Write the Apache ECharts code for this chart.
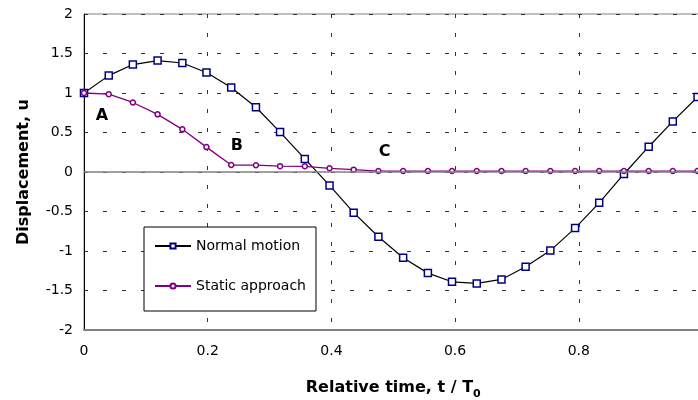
<!DOCTYPE html>
<html><head><meta charset="utf-8">
<script src="https://cdn.jsdelivr.net/npm/echarts@6/dist/echarts.min.js"></script>
<style>html,body{margin:0;padding:0;background:#fff}#c{width:698px;height:400px}</style>
</head><body><div id="c"></div>
<script>
// Relative time t / T0 of each sample
const tValues = [0, 0.04, 0.079, 0.119, 0.159, 0.198, 0.238, 0.278, 0.317, 0.357, 0.397, 0.436, 0.476,
  0.516, 0.556, 0.595, 0.635, 0.675, 0.714, 0.754, 0.794, 0.833, 0.873, 0.913, 0.952, 0.992];
// Displacement u
const normalMotion = [1.0, 1.22, 1.36, 1.41, 1.38, 1.26, 1.07, 0.82, 0.505, 0.165, -0.17, -0.515, -0.82,
  -1.085, -1.28, -1.39, -1.41, -1.36, -1.2, -0.995, -0.71, -0.39, -0.025, 0.32, 0.64, 0.95];
const staticApproach = [1.0, 0.985, 0.88, 0.73, 0.54, 0.315, 0.088, 0.086, 0.074, 0.072, 0.047, 0.03, 0.012,
  0.012, 0.012, 0.012, 0.012, 0.012, 0.012, 0.012, 0.012, 0.012, 0.012, 0.012, 0.012, 0.012];
const seriesNames = ['Normal motion', 'Static approach'];
const annotationLabels = ['A', 'B', 'C'];
const annotationT = [0.029, 0.247, 0.486];
const annotationU = [0.71, 0.33, 0.25];

const FONT = 'DejaVu Sans';
const chart = echarts.init(document.getElementById('c'), null, {renderer: 'canvas'});
chart.setOption({
  animation: false,
  backgroundColor: '#fff',
  textStyle: {fontFamily: FONT, color: '#000'},
  grid: {left: 84, top: 14, width: 618.5, height: 316, show: true, borderColor: '#808080', borderWidth: 1,
    containLabel: false, outerBoundsMode: 'none'},
  legend: {
    data: seriesNames,
    orient: 'vertical',
    left: 144, top: 227,
    padding: [12, 10, 18, 10],
    itemGap: 26,
    itemWidth: 36, itemHeight: 6.5,
    borderColor: '#000', borderWidth: 1, backgroundColor: '#fff',
    textStyle: {fontFamily: FONT, fontSize: 14, color: '#000'}
  },
  xAxis: {
    type: 'value', min: 0, max: 1, interval: 0.2,
    name: 'Relative time, t / T{sub|0}',
    nameLocation: 'middle', nameGap: 45.5,
    nameTextStyle: {fontFamily: FONT, fontWeight: 'bold', fontSize: 16, color: '#000', lineHeight: 24,
      rich: {sub: {fontFamily: FONT, fontWeight: 'bold', fontSize: 11, verticalAlign: 'bottom', color: '#000'}}},
    axisLine: {onZero: false, lineStyle: {color: '#808080', width: 2}},
    axisTick: {show: false},
    axisLabel: {fontFamily: FONT, fontSize: 14, color: '#000', margin: 14,
      formatter: v => (v >= 1 ? '' : String(v))},
    splitLine: {show: true, lineStyle: {color: '#333', width: 1, type: [4, 15]}}
  },
  yAxis: {
    type: 'value', min: -2, max: 2, interval: 0.5,
    name: 'Displacement, u',
    nameLocation: 'middle', nameGap: 52,
    nameTextStyle: {fontFamily: FONT, fontWeight: 'bold', fontSize: 16, color: '#000'},
    axisLine: {show: true, lineStyle: {color: '#000', width: 1}},
    axisTick: {show: false},
    axisLabel: {fontFamily: FONT, fontSize: 14, color: '#000', margin: 11},
    splitLine: {show: true, lineStyle: {color: '#333', width: 1, type: [4, 15]}}
  },
  series: [
    {
      name: seriesNames[0], type: 'line',
      data: tValues.map((t, i) => [t, normalMotion[i]]),
      symbol: 'rect', symbolSize: 7,
      lineStyle: {color: '#000', width: 1.2},
      itemStyle: {color: '#fff', borderColor: '#000080', borderWidth: 1.5},
      markLine: {
        silent: true, symbol: 'none', label: {show: false},
        lineStyle: {color: '#808080', width: 1.5, type: 'solid'},
        data: [{yAxis: 0}]
      },
      z: 3
    },
    {
      name: seriesNames[1], type: 'line',
      data: tValues.map((t, i) => [t, staticApproach[i]]),
      symbol: 'circle', symbolSize: 5,
      lineStyle: {color: '#800080', width: 1.3},
      itemStyle: {color: '#fff', borderColor: '#800080', borderWidth: 1.5},
      z: 4
    },
    {
      name: 'labels', type: 'scatter', silent: true,
      symbolSize: 0,
      itemStyle: {opacity: 1},
      data: annotationLabels.map((s, i) => ({name: s, value: [annotationT[i], annotationU[i]]})),
      label: {show: true, position: 'inside', formatter: p => p.name, opacity: 1,
        fontFamily: FONT, fontWeight: 'bold', fontSize: 16, color: '#000'},
      z: 5
    }
  ]
});
</script>
</body></html>
